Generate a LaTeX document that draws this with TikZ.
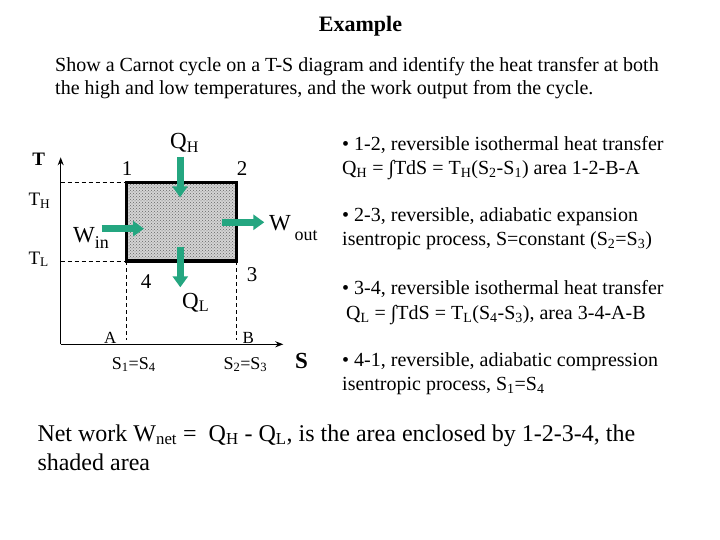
\documentclass[tikz,border=0pt]{standalone}
\usepackage{fontspec}
\setmainfont{Liberation Serif}
\usepackage{graphicx}
\usetikzlibrary{arrows.meta,patterns}
\definecolor{flowgreen}{RGB}{36,166,128}
\definecolor{shadegray}{RGB}{212,212,212}
\newcommand{\lsub}[1]{\textsubscript{#1}}
\newcommand{\dsub}[2][0.45em]{\raisebox{-#1}{\scalebox{0.78}{#2}}}
\tikzset{
  titlef/.style={inner sep=0pt, font=\fontsize{22}{24}\selectfont\bfseries},
  introf/.style={inner sep=0pt, anchor=base west, font=\fontsize{20}{23}\selectfont},
  bottomf/.style={inner sep=0pt, anchor=base west, font=\fontsize{24}{28}\selectfont},
  rtext/.style={inner sep=0pt, anchor=base west, font=\fontsize{20}{23}\selectfont},
  numlbl/.style={inner sep=0pt, font=\fontsize{21}{24}\selectfont},
  ptlbl/.style={inner sep=0pt, font=\fontsize{17}{18}\selectfont},
  templbl/.style={inner sep=0pt, anchor=base west, font=\fontsize{19}{21}\selectfont},
  flowlbl/.style={inner sep=0pt, anchor=base west, font=\fontsize{23}{25}\selectfont},
  slbl/.style={inner sep=0pt, anchor=base west, font=\fontsize{18}{20}\selectfont},
  axis/.style={line width=1.4pt, -{Stealth[length=8pt,width=6pt]}},
  guide/.style={line width=0.8pt, dash pattern=on 4pt off 3pt},
  flow/.style={draw=flowgreen, line width=7pt, -{Triangle[width=15pt,length=11pt]}},
}
\begin{document}
\begin{tikzpicture}[x=1pt,y=-1pt]
\useasboundingbox (0,0) rectangle (720,540);
\fill[white] (0,0) rectangle (720,540);

% heading
\node[titlef, anchor=base] (title) at (360.5,32) {Example};
\node[introf] (intro1) at (55,72) {Show a Carnot cycle on a T-S diagram and identify the heat transfer at both};
\node[introf] (intro2) at (55,95) {the high and low temperatures, and the work output from the cycle.};

% axes
\coordinate (O) at (60.7,344.3);
\coordinate (Ttop) at (60.7,157.3);
\coordinate (Send) at (283.3,344.3);

% cycle corners
\coordinate (p1) at (126.7,182.3);
\coordinate (p2) at (236.7,182.3);
\coordinate (p3) at (236.7,261);
\coordinate (p4) at (126.7,261);
\coordinate (TH) at (60.7,182.3);
\coordinate (TL) at (60.7,261);
\coordinate (Ap) at (126.7,340);
\coordinate (Bp) at (236.7,340);

\draw[guide] (TH) -- (p1);
\draw[guide] (TL) -- (p4);
\draw[guide] (p4) -- (Ap);
\draw[guide] (p3) -- (Bp);

\fill[shadegray] (p1) rectangle (p3);
\fill[pattern=crosshatch dots, pattern color=black!60] (p1) rectangle (p3);
\draw[line width=3.3pt] (p1) -- (p2) -- (p3) -- (p4) -- cycle;

\draw[axis] (O) -- (Ttop);
\draw[axis] (O) -- (Send);

% heat and work arrows
\coordinate (qh0) at (180,156.7);
\coordinate (qh1) at (180,197.3);
\coordinate (ql0) at (180.3,246.7);
\coordinate (ql1) at (180.3,287.3);
\coordinate (wi0) at (101.7,228.7);
\coordinate (wi1) at (144,228.7);
\coordinate (wo0) at (222.3,222.3);
\coordinate (wo1) at (264.3,222.3);
\draw[flow] (qh0) -- (qh1);
\draw[flow] (ql0) -- (ql1);
\draw[flow] (wi0) -- (wi1);
\draw[flow] (wo0) -- (wo1);

% diagram labels
\node[inner sep=0pt, font=\fontsize{19}{21}\selectfont\bfseries] (Tlab) at (38.8,159.5) {T};
\node[inner sep=0pt, font=\fontsize{23}{25}\selectfont\bfseries] (Slab) at (301.5,361.3) {S};
\node[numlbl] (n1) at (127,169) {1};
\node[numlbl] (n2) at (242,169) {2};
\node[numlbl] (n3) at (252,274.7) {3};
\node[numlbl] (n4) at (146,281.7) {4};
\node[ptlbl] (nA) at (110.3,337.5) {A};
\node[ptlbl] (nB) at (248.3,337.5) {B};
\node[templbl] (nTH) at (28.3,206) {T\lsub{H}};
\node[templbl] (nTL) at (28.3,264) {T\lsub{L}};
\node[flowlbl] (nQH) at (170,149) {Q\lsub{H}};
\node[flowlbl] (nQL) at (182,308) {Q\lsub{L}};
\node[flowlbl] (nWi) at (73,242.7) {W\dsub[0.25em]{in}};
\node[flowlbl] (nWo) at (269,230) {W\,\dsub{out}};
\node[slbl] (s14) at (111.7,369.3) {S\lsub{1}=S\lsub{4}};
\node[slbl] (s23) at (223.3,369.3) {S\lsub{2}=S\lsub{3}};

% process descriptions
\node[rtext] (r1a) at (342,150.5) {• 1-2, reversible isothermal heat transfer};
\node[rtext] (r1b) at (342,174.5) {Q\lsub{H} = ∫TdS = T\lsub{H}(S\lsub{2}-S\lsub{1}) area 1-2-B-A};
\node[rtext] (r2a) at (342,221.5) {• 2-3, reversible, adiabatic expansion};
\node[rtext] (r2b) at (342,245.5) {isentropic process, S=constant (S\lsub{2}=S\lsub{3})};
\node[rtext] (r3a) at (342,294.5) {• 3-4, reversible isothermal heat transfer};
\node[rtext] (r3b) at (346,319.5) {Q\lsub{L} = ∫TdS = T\lsub{L}(S\lsub{4}-S\lsub{3}), area 3-4-A-B};
\node[rtext] (r4a) at (342,366.5) {• 4-1, reversible, adiabatic compression};
\node[rtext] (r4b) at (342,390.5) {isentropic process, S\lsub{1}=S\lsub{4}};

% conclusion
\node[bottomf] (net1) at (37.3,441) {Net work W\lsub{net} =\ \ Q\lsub{H} - Q\lsub{L}, is the area enclosed by 1-2-3-4, the};
\node[bottomf] (net2) at (37.3,470) {shaded area};
\end{tikzpicture}
\end{document}
